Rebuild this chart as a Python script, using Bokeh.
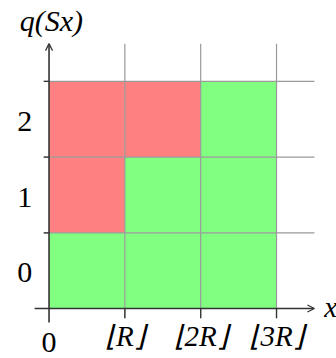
from bokeh.plotting import figure
from bokeh.models import Range1d, Arrow, OpenHead, ColumnDataSource
from bokeh.core.properties import value
from bokeh.embed import file_html
from bokeh.resources import INLINE

# grid cells: column index x, level q, and whether the cell is "bad" (red)
cell_x = [0, 1, 2, 0, 1, 2, 0, 1, 2]
cell_q = [0, 0, 0, 1, 1, 1, 2, 2, 2]
cell_bad = [False, False, False, True, False, False, True, True, False]

x_ticks = [0, 1, 2, 3]
x_tick_labels = ["0", "⌊R⌋", "⌊2R⌋", "⌊3R⌋"]
q_levels = [0, 1, 2]
q_labels = ["0", "1", "2"]

RED = "#ff8080"
GREEN = "#80ff80"
FONT = value("Liberation Serif")

p = figure(width=336, height=358, output_backend="svg", toolbar_location=None,
           x_range=Range1d(-0.640, 3.791), y_range=Range1d(-0.661, 4.070),
           min_border=0)
p.axis.visible = False
p.grid.visible = False
p.outline_line_color = None

src = ColumnDataSource(dict(
    left=cell_x, right=[c + 1 for c in cell_x],
    bottom=cell_q, top=[q + 1 for q in cell_q],
    color=[RED if b else GREEN for b in cell_bad],
))
p.quad(left="left", right="right", bottom="bottom", top="top",
       fill_color="color", line_color=None, source=src)

# help-line grid
p.segment(x0=x_ticks[1:], y0=[-0.13] * 3, x1=x_ticks[1:], y1=[3.5] * 3,
          line_color="#9a9a9a", line_width=1.2)
p.segment(x0=[-0.07] * 3, y0=[q + 1 for q in q_levels], x1=[3.5] * 3,
          y1=[q + 1 for q in q_levels], line_color="#9a9a9a", line_width=1.2)

# short dark ticks on the axes
p.segment(x0=x_ticks[1:], y0=[-0.13] * 3, x1=x_ticks[1:], y1=[0] * 3,
          line_color="#333333", line_width=1.3)
p.segment(x0=[-0.07] * 3, y0=[q + 1 for q in q_levels], x1=[0] * 3,
          y1=[q + 1 for q in q_levels], line_color="#333333", line_width=1.3)

# axes with arrow heads
p.add_layout(Arrow(x_start=-0.19, y_start=0, x_end=3.5, y_end=0,
                   line_color="#333333", line_width=1.6,
                   end=OpenHead(size=7, line_width=1.2, line_color="#333333")))
p.add_layout(Arrow(x_start=0, y_start=-0.185, x_end=0, y_end=3.5,
                   line_color="#333333", line_width=1.6,
                   end=OpenHead(size=7, line_width=1.2, line_color="#333333")))

# q-axis labels, centred on each row
p.text(x=[-0.32] * 3, y=[q + 0.47 for q in q_levels], text=q_labels,
       text_font=FONT, text_font_size="30px", text_align="center",
       text_baseline="middle", text_color="black")

# x-axis labels
p.text(x=x_ticks[:1], y=[-0.45], text=x_tick_labels[:1],
       text_font=FONT, text_font_size="30px", text_align="center",
       text_baseline="alphabetic", text_color="black")
p.text(x=x_ticks[1:], y=[-0.36] * 3, text=x_tick_labels[1:],
       text_font=FONT, text_font_size="29px", text_font_style="italic",
       text_align="center", text_baseline="alphabetic", text_color="black")

# axis titles
p.text(x=[0.03], y=[3.8], text=["q(Sx)"], text_font=FONT,
       text_font_size="30px", text_font_style="italic", text_align="center",
       text_baseline="middle", text_color="black")
p.text(x=[3.63], y=[0.02], text=["x"], text_font=FONT,
       text_font_size="29px", text_font_style="italic", text_align="left",
       text_baseline="middle", text_color="black")

open("out.html", "w").write(file_html(p, INLINE))
